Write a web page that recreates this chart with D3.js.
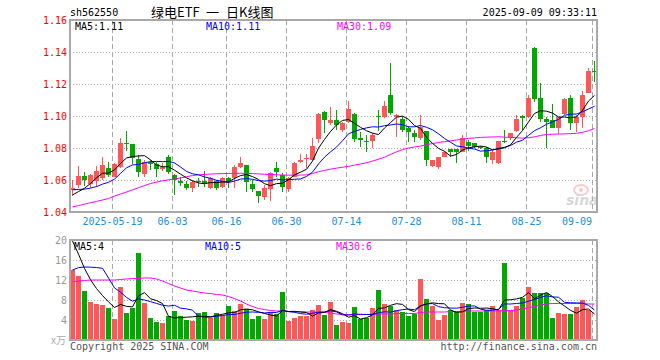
<!DOCTYPE html>
<html><head><meta charset="utf-8">
<script src="https://cdn.jsdelivr.net/npm/d3@7/dist/d3.min.js"></script>
<style>
html,body{margin:0;padding:0;background:#fff;}
svg{display:block;}
text{font-family:"DejaVu Sans Mono",monospace;}
</style></head><body>
<svg id="c" width="660" height="360"></svg>
<script>
// ---- data ----
const dateLabels = [
  {i:7, t:"2025-05-19"},{i:17,t:"06-03"},{i:26,t:"06-16"},{i:36,t:"06-30"},
  {i:46,t:"07-14"},{i:56,t:"07-28"},{i:66,t:"08-11"},{i:76,t:"08-25"},{i:87,t:"09-09"}
];
const open  = [1.0535,1.0567,1.0627,1.0575,1.0595,1.0612,1.0677,1.0621,1.0680,1.0833,
  1.0825,1.0731,1.0640,1.0715,1.0700,1.0669,1.0746,1.0629,1.0594,1.0575,
  1.0548,1.0594,1.0596,1.0548,1.0594,1.0554,1.0610,1.0610,1.0683,1.0694,
  1.0575,1.0531,1.0496,1.0544,1.0677,1.0631,1.0544,1.0621,1.0715,1.0735,
  1.0725,1.0856,1.1025,1.0958,1.0975,1.0913,1.0965,1.1013,1.0860,1.0846,
  1.0846,1.1002,1.0992,1.1131,1.0996,1.0981,1.0923,1.0892,1.0860,1.0906,
  1.0690,1.0683,1.0746,1.0794,1.0794,1.0777,1.0840,1.0829,1.0808,1.0802,
  1.0725,1.0704,1.0846,1.0860,1.0908,1.1002,1.0992,1.1427,1.1110,1.0979,
  1.0975,1.0927,1.1013,1.1110,1.0958,1.0996,1.1146,1.1283];
const close = [1.0552,1.0627,1.0602,1.0630,1.0658,1.0694,1.0633,1.0700,1.0833,1.0828,
  1.0740,1.0650,1.0710,1.0702,1.0669,1.0683,1.0652,1.0600,1.0580,1.0552,
  1.0590,1.0586,1.0576,1.0615,1.0550,1.0610,1.0590,1.0683,1.0704,1.0585,
  1.0544,1.0500,1.0552,1.0642,1.0648,1.0556,1.0610,1.0704,1.0725,1.0740,
  1.0813,1.1013,1.0975,1.0975,1.0944,1.0954,1.1042,1.0856,1.0850,1.0836,
  1.0881,1.0996,1.1063,1.1017,1.1006,1.0913,1.0898,1.0867,1.0929,1.0725,
  1.0725,1.0742,1.0777,1.0777,1.0777,1.0860,1.0813,1.0808,1.0802,1.0746,
  1.0773,1.0844,1.0842,1.0892,1.0981,1.0985,1.1115,1.1106,1.0979,1.0965,
  1.0927,1.0992,1.1104,1.0958,1.0992,1.1131,1.1283,1.1279];
const high  = [1.0600,1.0685,1.0648,1.0640,1.0685,1.0746,1.0715,1.0706,1.0860,1.0906,
  1.0828,1.0756,1.0725,1.0725,1.0715,1.0704,1.0756,1.0638,1.0621,1.0594,
  1.0600,1.0610,1.0658,1.0621,1.0600,1.0621,1.0621,1.0694,1.0746,1.0696,
  1.0600,1.0533,1.0569,1.0652,1.0715,1.0642,1.0621,1.0715,1.0760,1.0760,
  1.0860,1.1017,1.1031,1.1058,1.1038,1.0965,1.1096,1.1017,1.0902,1.0881,
  1.0892,1.1038,1.1094,1.1329,1.1010,1.1002,1.0938,1.0913,1.1006,1.0908,
  1.0727,1.0746,1.0783,1.0796,1.0796,1.0881,1.0850,1.0831,1.0815,1.0808,
  1.0788,1.0846,1.0913,1.0894,1.1006,1.1006,1.1131,1.1429,1.1208,1.0996,
  1.1075,1.0996,1.1110,1.1131,1.1006,1.1156,1.1298,1.1344];
const low   = [1.0498,1.0550,1.0560,1.0550,1.0555,1.0600,1.0621,1.0617,1.0675,1.0780,
  1.0700,1.0621,1.0621,1.0660,1.0621,1.0655,1.0640,1.0506,1.0560,1.0537,
  1.0527,1.0558,1.0558,1.0542,1.0537,1.0548,1.0548,1.0548,1.0673,1.0527,
  1.0527,1.0458,1.0475,1.0471,1.0621,1.0527,1.0527,1.0617,1.0704,1.0673,
  1.0725,1.0829,1.0892,1.0944,1.0913,1.0902,1.0954,1.0840,1.0808,1.0777,
  1.0798,1.0906,1.0985,1.1006,1.0871,1.0902,1.0840,1.0840,1.0850,1.0690,
  1.0679,1.0671,1.0742,1.0746,1.0708,1.0773,1.0783,1.0798,1.0796,1.0708,
  1.0700,1.0700,1.0829,1.0850,1.0902,1.0913,1.0985,1.1090,1.0965,1.0802,
  1.0923,1.0885,1.1006,1.0913,1.0902,1.0923,1.1142,1.1215];
const volume = [14.0,12.8,9.8,7.67,7.2,7.0,6.47,4.2,10.6,5.4,
  6.47,17.47,7.47,4.4,3.67,3.4,4.8,5.8,4.8,4.0,
  3.8,5.4,5.6,4.4,5.4,5.0,6.8,5.8,7.2,6.2,
  4.2,4.8,4.2,5.6,5.2,9.6,3.9,4.4,4.8,4.8,
  6.0,7.0,5.0,7.67,3.0,3.67,3.47,6.6,4.2,4.33,
  6.4,10.0,7.2,6.73,6.0,5.67,4.8,5.2,12.2,8.2,
  6.8,4.0,5.0,6.0,5.8,7.4,7.2,5.67,5.67,6.0,
  6.8,6.0,15.47,6.0,6.8,8.4,10.67,9.47,9.47,9.47,
  4.4,5.4,5.2,5.2,6.6,8.0,6.0,0.2];
// closes / volumes of the 9 sessions before the window (for MA5 / MA10)
const priorClose  = [1.060,1.058,1.057,1.056,1.054,1.052,1.050,1.048,1.048];
const priorVolume = [8,8.6,8,8,8.4,26,24,19,16];
// MA30
const ma30Price = [1.0432,1.0440,1.0449,1.0458,1.0466,1.0475,1.0484,1.0500,1.0512,1.0525,
  1.0538,1.0552,1.0565,1.0578,1.0587,1.0595,1.0601,1.0606,1.0613,1.0620,
  1.0628,1.0632,1.0635,1.0637,1.0639,1.0640,1.0641,1.0642,1.0642,1.0641,
  1.0640,1.0638,1.0636,1.0634,1.0633,1.0631,1.0630,1.0630,1.0631,1.0632,
  1.0640,1.0652,1.0660,1.0668,1.0674,1.0680,1.0685,1.0693,1.0700,1.0708,
  1.0718,1.0730,1.0742,1.0760,1.0776,1.0790,1.0800,1.0806,1.0812,1.0820,
  1.0828,1.0834,1.0840,1.0845,1.0850,1.0855,1.0860,1.0863,1.0866,1.0868,
  1.0869,1.0870,1.0868,1.0866,1.0864,1.0862,1.0864,1.0870,1.0878,1.0885,
  1.0886,1.0887,1.0888,1.0890,1.0892,1.0898,1.0908,1.0922];
const ma30Volume = [11.7,11.8,11.9,12.0,12.0,12.0,12.0,12.0,12.1,12.2,
  12.3,12.3,12.4,12.4,12.2,11.8,11.3,10.8,10.4,10.0,
  9.8,9.6,9.4,9.3,9.1,9.0,8.7,8.3,7.8,7.2,
  6.7,6.3,6.1,5.9,5.8,5.8,5.7,5.7,5.7,5.6,
  5.6,5.6,5.5,5.4,5.2,5.1,5.1,5.1,5.1,5.1,
  5.1,5.2,5.2,5.2,5.3,5.3,5.3,5.3,5.5,5.6,
  5.6,5.6,5.6,5.7,5.7,5.7,5.8,5.8,5.8,5.8,
  5.8,5.8,5.9,5.9,6.0,6.2,6.5,6.7,7.0,7.2,
  7.3,7.3,7.3,7.3,7.3,7.3,7.2,7.2];
const priceTicks = [1.16,1.14,1.12,1.10,1.08,1.06,1.04];
const volTicks = [20,16,12,8,4];
const priceLegend = ["MA5:1.11","MA10:1.11","MA30:1.09"];
const volLegend = ["MA5:4","MA10:5","MA30:6"];
const titleParts = [{x:151,t:"绿电ETF"},{x:206,t:"一"},{x:226,t:"日K线图"}];

// ---- helpers ----
function movingAvg(prior, vals, n){
  const all = prior.concat(vals), off = prior.length;
  return vals.map((_,i)=>d3.mean(all.slice(off+i-n+1, off+i+1)));
}
const ma5P = movingAvg(priorClose, close, 5), ma10P = movingAvg(priorClose, close, 10);
const ma5V = movingAvg(priorVolume, volume, 5), ma10V = movingAvg(priorVolume, volume, 10);

const RED="#ff5757", GREEN="#00a800", GRID="#a8a8a8";
const L=70, R=597, PT=20, PB=212, VT=240, VB=340;
const svg = d3.select("#c");
const idx = d3.range(close.length);
const x = d3.scaleBand().domain(idx).range([L,R]).paddingInner(1/6).paddingOuter(0);
const xc = i => x(i) + x.bandwidth()/2;
const yP = d3.scaleLinear().domain([1.04,1.16]).range([PB,PT]);
const yV = d3.scaleLinear().domain([0,20]).range([VB,VT]);

// header
svg.append("text").attr("x",70).attr("y",16).attr("font-size",10).attr("fill","#000").text("sh562550");
svg.append("g").selectAll("text").data(titleParts).join("text")
  .attr("x",d=>d.x).attr("y",17).attr("font-size",13)
  .style("font-family",'"Noto Sans CJK SC","Noto Sans",sans-serif').attr("fill","#000").text(d=>d.t);
svg.append("text").attr("x",597).attr("y",16).attr("text-anchor","end").attr("font-size",10).attr("fill","#000").text("2025-09-09 09:33:11");

// grids
function hgrid(scale, vals){
  svg.append("g").selectAll("line").data(vals).join("line")
    .attr("x1",L).attr("x2",R).attr("y1",d=>Math.round(scale(d))+0.5).attr("y2",d=>Math.round(scale(d))+0.5)
    .attr("stroke",GRID).attr("stroke-dasharray","1,2");
}
hgrid(yP, [1.14,1.12,1.10,1.08,1.06]);
hgrid(yV, [16,12,8,4]);
function vgrid(top,bottom){
  svg.append("g").selectAll("line").data(dateLabels).join("line")
    .attr("x1",d=>x(d.i)+0.5).attr("x2",d=>x(d.i)+0.5).attr("y1",top).attr("y2",bottom)
    .attr("stroke",GRID).attr("stroke-dasharray","5,3");
}
vgrid(PT,PB); vgrid(VT,VB);

// axes labels
const yAxisP = d3.axisLeft(yP).tickValues(priceTicks).tickFormat(d3.format(".2f")).tickSize(0).tickPadding(3);
const gP = svg.append("g").attr("transform",`translate(${L},0)`).call(yAxisP);
gP.select(".domain").remove();
gP.selectAll("text").attr("fill","#ff0000").attr("font-size",10).style("font-family",'"DejaVu Sans Mono",monospace');
const yAxisV = d3.axisLeft(yV).tickValues(volTicks).tickFormat(d3.format("d")).tickSize(0).tickPadding(3);
const gV = svg.append("g").attr("transform",`translate(${L},0)`).call(yAxisV);
gV.select(".domain").remove();
gV.selectAll("text").attr("fill","#999").attr("font-size",10).style("font-family",'"DejaVu Sans Mono",monospace');
svg.append("text").attr("x",66).attr("y",344).attr("text-anchor","end").attr("font-size",10)
  .style("font-family",'"Noto Sans CJK SC",sans-serif').attr("fill","#aaa").text("x万");

svg.append("g").selectAll("text").data(dateLabels).join("text")
  .attr("x",d=> d.i===idx.length-1 ? x(d.i) : x(d.i)+0.5)
  .attr("text-anchor",d=> d.i===idx.length-1 ? "end":"middle")
  .attr("y",225).attr("font-size",10).attr("fill","#1a8ee0").text(d=>d.t);

// watermark
const wm = svg.append("g").attr("opacity",0.55);
wm.append("ellipse").attr("cx",581).attr("cy",190).attr("rx",7).attr("ry",5).attr("fill","none").attr("stroke","#f3a0a0").attr("stroke-width",2);
wm.append("circle").attr("cx",581).attr("cy",190).attr("r",2).attr("fill","#f3a0a0");
wm.append("text").attr("x",566).attr("y",205).attr("font-size",14).attr("font-style","italic").attr("font-weight","bold")
  .style("font-family","Verdana,DejaVu Sans,sans-serif").attr("fill","#b8b8b8").text("sina");

// candles
const up = i => close[i] >= open[i];
const cg = svg.append("g").attr("shape-rendering","crispEdges");
cg.selectAll("line").data(idx).join("line")
  .attr("x1",i=>xc(i)).attr("x2",i=>xc(i))
  .attr("y1",i=>yP(high[i])).attr("y2",i=>yP(low[i]))
  .attr("stroke",i=>up(i)?RED:GREEN);
cg.selectAll("rect").data(idx).join("rect")
  .attr("x",i=>x(i)).attr("width",x.bandwidth())
  .attr("y",i=>Math.round(yP(Math.max(open[i],close[i]))))
  .attr("height",i=>Math.max(1, Math.round(yP(Math.min(open[i],close[i]))) - Math.round(yP(Math.max(open[i],close[i])))))
  .attr("fill",i=>up(i)?RED:GREEN);

// volume bars
svg.append("g").attr("shape-rendering","crispEdges").selectAll("rect").data(idx).join("rect")
  .attr("x",i=>x(i)).attr("width",x.bandwidth())
  .attr("y",i=>Math.round(yV(volume[i]))).attr("height",i=>VB-Math.round(yV(volume[i])))
  .attr("fill",i=>up(i)?RED:GREEN);

// MA lines
function maLine(vals, scale, color){
  svg.append("path").datum(idx)
    .attr("d", d3.line().x(i=>xc(i)).y(i=>Math.max(scale.range()[1], scale(vals[i]))))
    .attr("fill","none").attr("stroke",color).attr("stroke-width",1);
}
maLine(ma30Price, yP, "#ff00ff"); maLine(ma10P, yP, "#0000ff"); maLine(ma5P, yP, "#000");
maLine(ma30Volume, yV, "#ff00ff"); maLine(ma10V, yV, "#0000ff"); maLine(ma5V, yV, "#000");

// frames
svg.append("rect").attr("x",L).attr("y",PT).attr("width",R-L).attr("height",PB-PT).attr("fill","none").attr("stroke","#a8a8a8").attr("stroke-width",2);
svg.append("rect").attr("x",L).attr("y",VT).attr("width",R-L).attr("height",VB-VT).attr("fill","none").attr("stroke","#a8a8a8").attr("stroke-width",2);

// legends
const lcol = ["#000","#0000ff","#ff00ff"], lx=[75,206,337];
priceLegend.forEach((t,k)=>svg.append("text").attr("x",lx[k]).attr("y",30).attr("font-size",10).attr("fill",lcol[k]).text(t));
volLegend.forEach((t,k)=>svg.append("text").attr("x",lx[k]-1).attr("y",250).attr("font-size",10).attr("fill",lcol[k]).text(t));

// footer
svg.append("text").attr("x",70).attr("y",350).attr("font-size",10).attr("fill","#555").text("Copyright 2025 SINA.COM");
svg.append("text").attr("x",597).attr("y",350).attr("text-anchor","end").attr("font-size",10).attr("fill","#555").text("http://finance.sina.com.cn");
</script></body></html>
